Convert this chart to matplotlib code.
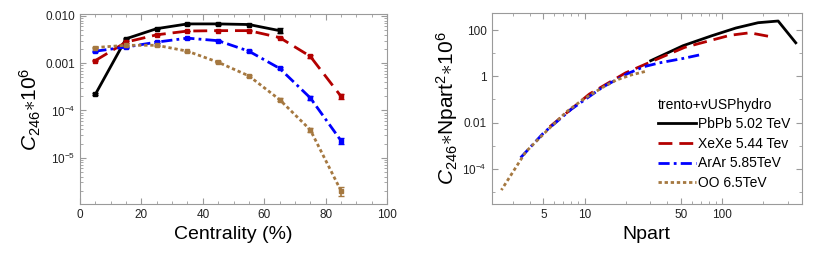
import matplotlib
matplotlib.use("Agg")
import matplotlib.pyplot as plt
import matplotlib.ticker as mticker
import numpy as np

plt.rcParams["font.family"] = ["Liberation Sans", "DejaVu Sans"]
plt.rcParams["mathtext.fontset"] = "custom"
plt.rcParams["mathtext.rm"] = "Liberation Sans"
plt.rcParams["mathtext.it"] = "Liberation Sans:italic"
plt.rcParams["mathtext.bf"] = "Liberation Sans:bold"

# ---- data ----
centrality = [5, 15, 25, 35, 45, 55, 65, 75, 85]

pbpb_c = [2.2e-4, 3.3e-3, 5.4e-3, 6.8e-3, 6.8e-3, 6.6e-3, 4.9e-3]
pbpb_err = [0.1e-4, 0.1e-3, 0.1e-3, 0.2e-3, 0.2e-3, 0.2e-3, 0.6e-3]
xexe_c = [1.14e-3, 2.8e-3, 4.0e-3, 4.8e-3, 4.9e-3, 4.9e-3, 3.5e-3, 1.4e-3, 2.0e-4]
xexe_err = [0.05e-3, 0.1e-3, 0.1e-3, 0.1e-3, 0.1e-3, 0.1e-3, 0.15e-3, 0.1e-3, 0.25e-4]
arar_c = [1.8e-3, 2.2e-3, 2.8e-3, 3.4e-3, 3.0e-3, 1.8e-3, 7.8e-4, 1.85e-4, 2.3e-5]
arar_err = [0.05e-3, 0.05e-3, 0.1e-3, 0.1e-3, 0.1e-3, 0.08e-3, 0.4e-4, 0.15e-4, 0.3e-5]
oo_c = [2.15e-3, 2.4e-3, 2.4e-3, 1.8e-3, 1.05e-3, 5.4e-4, 1.7e-4, 3.9e-5, 2.0e-6]
oo_err = [0.05e-3, 0.05e-3, 0.05e-3, 0.05e-3, 0.04e-3, 0.2e-4, 0.1e-4, 0.4e-5, 0.45e-6]

pbpb_npart = [344, 256, 183, 126, 83.8, 52, 30.2]
pbpb_y = [28, 245, 207, 122, 56, 21, 4.7]
xexe_npart = [216, 159, 114, 80.4, 53.4, 32.4, 19.8, 10.8, 5.2]
xexe_y = [54, 76, 59, 34, 17.8, 5.0, 1.4, 0.17, 0.0047]
arar_npart = [68, 52, 35, 27, 20.5, 13.5, 8.0, 5.0, 3.27]
arar_y = [8.3, 5.9, 3.8, 2.6, 1.3, 0.34, 0.038, 0.0035, 0.00023]
oo_npart = [27.4, 22, 17, 13.5, 9.7, 7.36, 5.41, 3.72, 2.47]
oo_y = [1.6, 1.16, 0.69, 0.33, 0.099, 0.029, 0.005, 5.4e-4, 1.2e-5]

labels = ["PbPb 5.02 TeV", "XeXe 5.44 Tev", "ArAr 5.85TeV", "OO 6.5TeV"]
colors = ["black", "#b30000", "#0000ff", "#a57840"]
dashes = [None, (5, 2.5), (4, 1.5, 1, 1.5), (1.2, 1)]

frame_col = "#9a9a9a"


def style_axes(ax):
    for s in ax.spines.values():
        s.set_color(frame_col)
    ax.tick_params(which="both", direction="in", top=True, right=True,
                   color=frame_col, labelsize=8.5, labelcolor="#222222")
    ax.tick_params(which="major", length=4)
    ax.tick_params(which="minor", length=2)


fig = plt.figure(figsize=(8.3, 2.6), dpi=100)
ax1 = fig.add_axes([0.0964, 0.2154, 0.3699, 0.7306])
ax2 = fig.add_axes([0.5924, 0.2154, 0.3735, 0.7357])

# left panel: C246 vs centrality
left_sets = [(pbpb_c, pbpb_err), (xexe_c, xexe_err), (arar_c, arar_err), (oo_c, oo_err)]
for (vals, err), col, d in zip(left_sets, colors, dashes):
    x = centrality[:len(vals)]
    line, = ax1.plot(x, vals, color=col, lw=2, marker="s", ms=3.5)
    if d is not None:
        line.set_dashes(d)
    ax1.errorbar(x, vals, yerr=err, fmt="none", ecolor=col, elinewidth=1.2, capsize=2)

ax1.set_yscale("log")
ax1.set_xlim(0, 100)
ax1.set_ylim(1.05e-6, 0.011)
ax1.xaxis.set_major_locator(mticker.MultipleLocator(20))
ax1.xaxis.set_minor_locator(mticker.MultipleLocator(5))
ax1.set_yticks([1e-5, 1e-4, 1e-3, 1e-2])
ax1.set_yticklabels([r"$10^{-5}$", r"$10^{-4}$", "0.001", "0.010"])
ax1.yaxis.set_minor_locator(mticker.LogLocator(base=10, subs=np.arange(2, 10), numticks=20))
ax1.yaxis.set_minor_formatter(mticker.NullFormatter())
style_axes(ax1)
ax1.set_xlabel("Centrality (%)", fontsize=14)
ax1.set_ylabel(r"$C_{246}$$\ast$10$^6$", fontsize=15, labelpad=2)

# right panel: C246 * Npart^2 vs Npart
right_sets = [(pbpb_npart, pbpb_y), (xexe_npart, xexe_y), (arar_npart, arar_y), (oo_npart, oo_y)]
for (xv, yv), col, d, lab in zip(right_sets, colors, dashes, labels):
    line, = ax2.plot(xv, yv, color=col, lw=2, marker="o", ms=4, label=lab)
    if d is not None:
        line.set_dashes(d)

ax2.set_xscale("log")
ax2.set_yscale("log")
ax2.set_xlim(2.1, 380)
ax2.set_ylim(3e-6, 560)
ax2.set_xticks([5, 10, 50, 100])
ax2.set_xticklabels(["5", "10", "50", "100"])
ax2.xaxis.set_minor_locator(mticker.LogLocator(base=10, subs=np.arange(2, 10), numticks=20))
ax2.xaxis.set_minor_formatter(mticker.NullFormatter())
ax2.set_yticks([1e-4, 1e-2, 1, 100])
ax2.set_yticklabels([r"$10^{-4}$", "0.01", "1", "100"])
ax2.yaxis.set_minor_locator(mticker.FixedLocator([1e-5, 1e-3, 1e-1, 10]))
ax2.yaxis.set_minor_formatter(mticker.NullFormatter())
style_axes(ax2)
ax2.set_xlabel("Npart", fontsize=14)
ax2.set_ylabel(r"$C_{246}$$\ast$Npart$^2$$\ast$10$^6$", fontsize=15, labelpad=2)

handles, labs = ax2.get_legend_handles_labels()
for h in handles:
    h.set_marker("")
leg = ax2.legend(handles, labs, title="trento+vUSPhydro", loc="lower right",
                 bbox_to_anchor=(0.99, 0.03), frameon=False, fontsize=10,
                 title_fontsize=10, handlelength=2.8, handletextpad=0.1,
                 labelspacing=0.4, borderaxespad=0.2)
leg._legend_box.align = "left"

fig.savefig("out.png", dpi=100)
